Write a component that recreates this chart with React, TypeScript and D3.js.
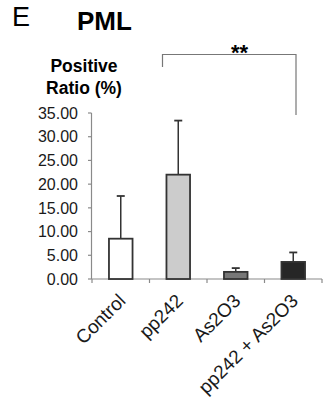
import * as d3 from 'd3';
import { useEffect, useRef } from 'react';

const categories = ['Control', 'pp242', 'As2O3', 'pp242 + As2O3'];
const means = [8.5, 22.0, 1.5, 3.6];
const errors = [9.0, 11.4, 0.8, 2.0];
const fills = ['#ffffff', '#cccccc', '#777777', '#262626'];
const yTicks = [0, 5, 10, 15, 20, 25, 30, 35];

export default function App() {
  const ref = useRef<SVGSVGElement | null>(null);

  useEffect(() => {
    if (!ref.current) return;
    const svg = d3.select(ref.current);
    svg.selectAll('*').remove();

    const font = '"Liberation Sans", Arial, sans-serif';
    const x = d3.scaleBand<string>().domain(categories).range([92, 322]).paddingInner(0);
    const y = d3.scaleLinear().domain([0, 35]).range([279, 113]);
    const barW = x.bandwidth() * 0.41;

    // headings
    svg.append('text').attr('x', 12).attr('y', 26)
      .style('font-family', font).style('font-size', '27px')
      .text('E');
    svg.append('text').attr('x', 77).attr('y', 30)
      .style('font-family', font).style('font-size', '26px').style('font-weight', 'bold')
      .text('PML');

    // y axis title
    ['Positive', 'Ratio (%)'].forEach((t, i) => {
      svg.append('text').attr('x', 84).attr('y', 71.5 + i * 22)
        .attr('text-anchor', 'middle')
        .style('font-family', font).style('font-size', '17.5px').style('font-weight', 'bold')
        .text(t);
    });

    const axisColor = '#8a8a8a';

    // y axis
    svg.append('line')
      .attr('x1', 91.5).attr('x2', 91.5).attr('y1', y(35)).attr('y2', y(0))
      .attr('stroke', axisColor).attr('stroke-width', 1.2);
    yTicks.forEach(t => {
      svg.append('line')
        .attr('x1', 88).attr('x2', 91.5).attr('y1', y(t)).attr('y2', y(t))
        .attr('stroke', axisColor).attr('stroke-width', 1.2);
      svg.append('text')
        .attr('x', 78).attr('y', y(t)).attr('dy', '0.36em')
        .attr('text-anchor', 'end')
        .style('font-family', font).style('font-size', '16px').attr('fill', '#1a1a1a')
        .text(t.toFixed(2));
    });

    // x axis
    svg.append('line')
      .attr('x1', 91.5).attr('x2', 322).attr('y1', y(0)).attr('y2', y(0))
      .attr('stroke', axisColor).attr('stroke-width', 1.2);
    const edges = categories.map(c => x(c) ?? 0).concat([x.range()[1]]);
    edges.forEach(e => {
      svg.append('line')
        .attr('x1', e).attr('x2', e).attr('y1', y(0)).attr('y2', y(0) + 4)
        .attr('stroke', axisColor).attr('stroke-width', 1.2);
    });

    // error bars
    categories.forEach((c, i) => {
      const cx = (x(c) ?? 0) + x.bandwidth() / 2;
      const top = y(means[i] + errors[i]);
      svg.append('line')
        .attr('x1', cx).attr('x2', cx).attr('y1', y(means[i])).attr('y2', top)
        .attr('stroke', '#333').attr('stroke-width', 1.5);
      svg.append('line')
        .attr('x1', cx - 4).attr('x2', cx + 4).attr('y1', top).attr('y2', top)
        .attr('stroke', '#333').attr('stroke-width', 1.8);
    });

    // bars
    categories.forEach((c, i) => {
      const cx = (x(c) ?? 0) + x.bandwidth() / 2;
      svg.append('rect')
        .attr('x', cx - barW / 2).attr('y', y(means[i]))
        .attr('width', barW).attr('height', y(0) - y(means[i]))
        .attr('fill', fills[i]).attr('stroke', '#333').attr('stroke-width', 1.8);
    });

    // category labels
    categories.forEach(c => {
      const px = (x(c) ?? 0) + x.bandwidth() / 2 + 6;
      svg.append('text')
        .attr('transform', `translate(${px},302) rotate(-45)`)
        .attr('text-anchor', 'end')
        .style('font-family', font).style('font-size', '19px').attr('fill', '#1a1a1a')
        .text(c);
    });

    // significance bracket
    svg.append('path')
      .attr('d', 'M162.5,67V54.5H296V115')
      .attr('fill', 'none').attr('stroke', '#777').attr('stroke-width', 1.2);
    svg.append('text').attr('x', 239.5).attr('y', 59.5)
      .attr('text-anchor', 'middle')
      .style('font-family', font).style('font-size', '22px').style('font-weight', 'bold')
      .text('**');
  }, []);

  return (
    <svg ref={ref} width={328} height={398}
      style={{ position: 'absolute', left: 0, top: 0, background: '#fff' }} />
  );
}
